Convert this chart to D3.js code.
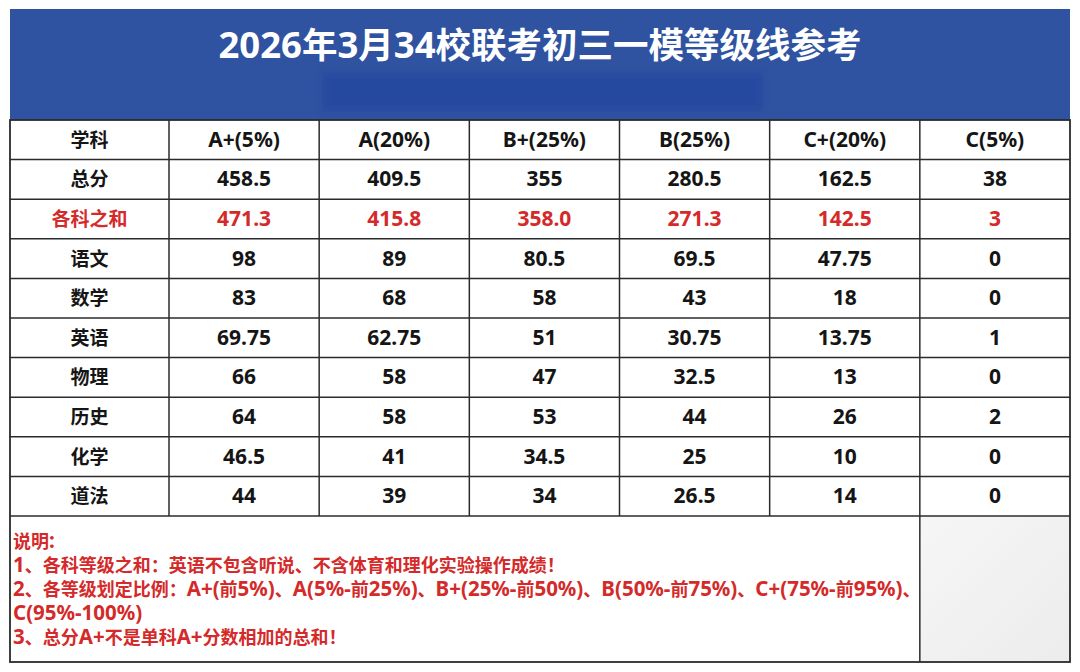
<!DOCTYPE html>
<html>
<head>
<meta charset="utf-8">
<script src="https://cdn.jsdelivr.net/npm/d3@7"></script>
<style>
  html, body { margin: 0; padding: 0; background: #fff; }
  svg { display: block; font-family: "Noto Sans", "Noto Sans CJK SC", sans-serif; }
</style>
</head>
<body>
<div id="chart"></div>
<script>
// grade columns and subject rows
const title = '2026年3月34校联考初三一模等级线参考';
const firstHeader = '学科';
const grades = ['A+(5%)', 'A(20%)', 'B+(25%)', 'B(25%)', 'C+(20%)', 'C(5%)'];
const subjects = ['总分', '各科之和', '语文', '数学', '英语', '物理', '历史', '化学', '道法'];

// score lines per row (kept as printed)
const totalScore = ['458.5', '409.5', '355', '280.5', '162.5', '38'];
const sumOfSubjects = ['471.3', '415.8', '358.0', '271.3', '142.5', '3'];
const chinese = ['98', '89', '80.5', '69.5', '47.75', '0'];
const math = ['83', '68', '58', '43', '18', '0'];
const english = ['69.75', '62.75', '51', '30.75', '13.75', '1'];
const physics = ['66', '58', '47', '32.5', '13', '0'];
const history = ['64', '58', '53', '44', '26', '2'];
const chemistry = ['46.5', '41', '34.5', '25', '10', '0'];
const morality = ['44', '39', '34', '26.5', '14', '0'];

const notes = [
  '说明:',
  '1、各科等级之和：英语不包含听说、不含体育和理化实验操作成绩！',
  '2、各等级划定比例：A+(前5%)、A(5%-前25%)、B+(25%-前50%)、B(50%-前75%)、C+(75%-前95%)、',
  'C(95%-100%)',
  '3、总分A+不是单科A+分数相加的总和！'
];

const rowValues = [totalScore, sumOfSubjects, chinese, math, english, physics, history, chemistry, morality];
const rows = subjects.map((s, i) => ({ subject: s, values: rowValues[i], red: s === '各科之和' }));

const W = 1080, H = 672;
const left = 10, right = 1070, firstColRight = 169;
const tableTop = 120, tableRowsBottom = 516, tableBottom = 662;
const blue = '#2f53a0';
const red = '#d42a2a';
const ink = '#151515';
const lineColor = '#2b2b2b';

// latin runs come out narrow in the CJK face, so size them separately
function mixedText(sel, str, cjkSize, latinSize) {
  str.split(/([\u0000-\u00ff]+)/).filter(s => s.length).forEach(part => {
    const latin = /^[\u0000-\u00ff]+$/.test(part);
    sel.append('tspan')
      .attr('font-size', latin ? latinSize : cjkSize)
      .text(part);
  });
}

const svg = d3.select('#chart').append('svg')
  .attr('width', W).attr('height', H);

// blur used for the smudged strip under the title
const defs = svg.append('defs');
defs.append('filter').attr('id', 'soft')
  .attr('x', '-10%').attr('y', '-30%').attr('width', '120%').attr('height', '160%')
  .append('feGaussianBlur').attr('stdDeviation', 3);
const grad = defs.append('linearGradient').attr('id', 'greyCell')
  .attr('x1', 0).attr('y1', 0).attr('x2', 1).attr('y2', 1);
grad.append('stop').attr('offset', '0%').attr('stop-color', '#f6f6f6');
grad.append('stop').attr('offset', '100%').attr('stop-color', '#ececec');

// scales
const x = d3.scaleBand().domain(grades).range([firstColRight, right]);
const y = d3.scaleBand().domain([firstHeader, ...subjects]).range([tableTop, tableRowsBottom]);
const baseShift = 7;

// title banner
svg.append('rect')
  .attr('x', left).attr('y', 9)
  .attr('width', right - left).attr('height', tableTop - 9)
  .attr('fill', blue);
svg.append('rect')
  .attr('x', 322).attr('y', 73)
  .attr('width', 441).attr('height', 38)
  .attr('fill', '#2649a0')
  .attr('filter', 'url(#soft)');
svg.append('text')
  .attr('x', W / 2).attr('y', 58)
  .attr('text-anchor', 'middle')
  .attr('fill', '#fff').attr('font-weight', 700)
  .call(mixedText, title, 35.5, 36.5);

// table background + grey corner cell
svg.append('rect')
  .attr('x', left).attr('y', tableTop)
  .attr('width', right - left).attr('height', tableBottom - tableTop)
  .attr('fill', '#fff');
svg.append('rect')
  .attr('x', x(grades[5])).attr('y', tableRowsBottom)
  .attr('width', x.bandwidth()).attr('height', tableBottom - tableRowsBottom)
  .attr('fill', 'url(#greyCell)');

// header row
const cjkFont = 19, latinFont = 21;
svg.append('text')
  .attr('x', (left + firstColRight) / 2).attr('y', y(firstHeader) + y.bandwidth() / 2 + baseShift)
  .attr('text-anchor', 'middle')
  .attr('font-weight', 700).attr('fill', ink)
  .call(mixedText, firstHeader, cjkFont, latinFont);
svg.selectAll('.grade').data(grades).enter().append('text')
  .attr('class', 'grade')
  .attr('x', d => x(d) + x.bandwidth() / 2)
  .attr('y', y(firstHeader) + y.bandwidth() / 2 + baseShift)
  .attr('text-anchor', 'middle')
  .attr('font-weight', 700).attr('fill', ink)
  .each(function(d) { mixedText(d3.select(this), d, cjkFont, latinFont); });

// body rows
const rowG = svg.selectAll('.row').data(rows).enter().append('g')
  .attr('class', 'row')
  .attr('transform', d => `translate(0,${y(d.subject) + y.bandwidth() / 2 + baseShift})`);
rowG.append('text')
  .attr('x', (left + firstColRight) / 2)
  .attr('text-anchor', 'middle')
  .attr('font-weight', 700)
  .attr('fill', d => d.red ? red : ink)
  .each(function(d) { mixedText(d3.select(this), d.subject, cjkFont, latinFont); });
rowG.selectAll('.val').data(d => d.values.map((v, i) => ({ v, g: grades[i], red: d.red })))
  .enter().append('text')
  .attr('class', 'val')
  .attr('x', d => x(d.g) + x.bandwidth() / 2)
  .attr('text-anchor', 'middle')
  .attr('font-size', latinFont).attr('font-weight', 700)
  .attr('fill', d => d.red ? red : ink)
  .text(d => d.v);

// grid lines
const hLines = y.domain().slice(1).map(d => y(d)).concat([tableRowsBottom]);
svg.selectAll('.hline').data(hLines).enter().append('line')
  .attr('x1', left).attr('x2', right)
  .attr('y1', d => d).attr('y2', d => d)
  .attr('stroke', lineColor).attr('stroke-width', 1.5);
const vLines = [firstColRight].concat(grades.slice(1).map(g => x(g)));
svg.selectAll('.vline').data(vLines).enter().append('line')
  .attr('x1', d => d).attr('x2', d => d)
  .attr('y1', tableTop).attr('y2', tableRowsBottom)
  .attr('stroke', lineColor).attr('stroke-width', 1.5);
svg.append('line')
  .attr('x1', x(grades[5])).attr('x2', x(grades[5]))
  .attr('y1', tableRowsBottom).attr('y2', tableBottom)
  .attr('stroke', lineColor).attr('stroke-width', 1.5);
svg.append('rect')
  .attr('x', left).attr('y', tableTop)
  .attr('width', right - left).attr('height', tableBottom - tableTop)
  .attr('fill', 'none').attr('stroke', lineColor).attr('stroke-width', 1.8);

// notes
svg.selectAll('.note').data(notes).enter().append('text')
  .attr('class', 'note')
  .attr('x', 13)
  .attr('y', (d, i) => 548 + i * 24)
  .attr('font-weight', 700)
  .attr('fill', red)
  .each(function(d) { mixedText(d3.select(this), d, 18, 20.5); });
</script>
</body>
</html>
